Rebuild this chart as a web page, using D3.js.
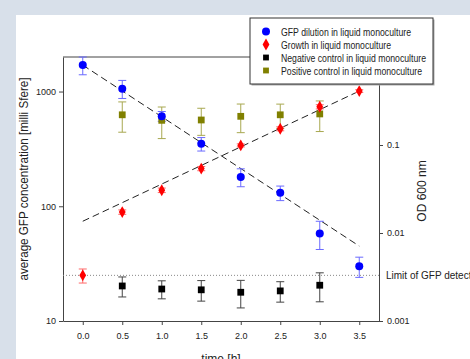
<!DOCTYPE html>
<html>
<head>
<meta charset="utf-8">
<script src="https://cdn.jsdelivr.net/npm/d3@7"></script>
<style>
  body { margin: 0; background: #fff; }
  text { font-family: "Liberation Sans", Arial, sans-serif; }
</style>
</head>
<body>
<svg id="canvas" width="470" height="359"></svg>
<script>
// values
let times = [0, 0.5, 1, 1.5, 2, 2.5, 3, 3.5]
let xTickLabels = ["0.0", "0.5", "1.0", "1.5", "2.0", "2.5", "3.0", "3.5"]

let gfpValue = [1700, 1060, 610, 350, 180, 131, 58, 30]
let gfpErr = [300, 190, 60, 47, 32, 19, 16, 6]

let growthValue = [0.0033, 0.0173, 0.0306, 0.054, 0.099, 0.153, 0.272, 0.41]
let growthErr = [0.0006, 0.001, 0.0018, 0.003, 0.004, 0.008, 0.015, 0.015]

let controlTimes = [0.5, 1, 1.5, 2, 2.5, 3]
let negValue = [20.2, 19, 18.7, 17.8, 18.3, 20.5]
let negErr = [4, 3.4, 3.8, 4.8, 3.7, 5.8]
let posValue = [627, 561, 565, 608, 627, 638]
let posErr = [185, 172, 150, 170, 150, 190]

let fitTimes = [0, 3.5]
let gfpFit = [1700, 45]
let growthFit = [0.0136, 0.41]

let detectionLimit = 25

let leftTicks = [10, 100, 1000]
let rightTicks = [0.001, 0.01, 0.1]

let legendLabels = [
  "GFP dilution in liquid monoculture",
  "Growth in liquid monoculture",
  "Negative control in liquid monoculture",
  "Positive control in liquid monoculture"
]

let canvas = d3.select("#canvas")

// page background, like the screenshot
canvas.append("rect").attr("width", 470).attr("height", 359).attr("fill", "#d8e0ea")
canvas.append("rect").attr("x", 16).attr("y", 15).attr("width", 454).attr("height", 344).attr("fill", "#fff")

let plotLeft = 63, plotRight = 379, plotTop = 57, plotBottom = 321

let x = d3.scaleLinear().domain([-0.25, 3.75]).range([plotLeft, plotRight])
let yLeft = d3.scaleLog().domain([10, 2000]).range([plotBottom, plotTop])
let yRight = d3.scaleLog().domain([0.001, 1]).range([plotBottom, plotTop])

let axisColor = "#444"

let styleAxis = (g) => {
  g.selectAll("path").attr("stroke", axisColor)
  g.selectAll("line").attr("stroke", axisColor)
  g.selectAll("text").attr("font-size", "9px").attr("fill", "#222")
    .attr("font-family", "'Liberation Sans', Arial, sans-serif")
}

canvas.append("g")
  .attr("transform", `translate(0,${plotBottom})`)
  .call(d3.axisBottom(x).tickValues(times).tickFormat((d, i) => xTickLabels[i]).tickSize(4).tickSizeOuter(0).tickPadding(8))
  .call(styleAxis)

canvas.append("g")
  .attr("transform", `translate(${plotLeft},0)`)
  .call(d3.axisLeft(yLeft).tickValues(leftTicks).tickFormat(d3.format("d")).tickSize(4).tickSizeOuter(0).tickPadding(3))
  .call(styleAxis)

canvas.append("g")
  .attr("transform", `translate(${plotRight},0)`)
  .call(d3.axisRight(yRight).tickValues(rightTicks).tickFormat((d) => d.toString()).tickSize(4).tickSizeOuter(0).tickPadding(4))
  .call(styleAxis)

// top frame line
canvas.append("line")
  .attr("x1", plotLeft).attr("x2", plotRight).attr("y1", plotTop).attr("y2", plotTop)
  .attr("stroke", axisColor)

// detection limit
canvas.append("line")
  .attr("x1", plotLeft).attr("x2", plotRight)
  .attr("y1", yLeft(detectionLimit)).attr("y2", yLeft(detectionLimit))
  .attr("stroke", "#888").attr("stroke-width", 1).attr("stroke-dasharray", "1,2")

canvas.append("text")
  .attr("x", plotRight + 7).attr("y", yLeft(detectionLimit) + 4)
  .attr("font-size", "10px").attr("fill", "#222")
  .text("Limit of GFP detection")

// fit lines
let gfpLine = d3.line().x((d, i) => x(fitTimes[i])).y((d) => yLeft(d))
let growthLine = d3.line().x((d, i) => x(fitTimes[i])).y((d) => yRight(d))

canvas.append("path").attr("d", gfpLine(gfpFit))
  .attr("fill", "none").attr("stroke", "#222").attr("stroke-dasharray", "7,4")
canvas.append("path").attr("d", growthLine(growthFit))
  .attr("fill", "none").attr("stroke", "#222").attr("stroke-dasharray", "7,4")

let drawErrors = (xs, vals, errs, yScale, color) => {
  let g = canvas.append("g").attr("stroke", color).attr("stroke-width", 1)
  xs.forEach((t, i) => {
    let cx = x(t)
    let y1 = yScale(vals[i] + errs[i])
    let y2 = yScale(vals[i] - errs[i])
    g.append("line").attr("x1", cx).attr("x2", cx).attr("y1", y1).attr("y2", y2)
    g.append("line").attr("x1", cx - 4).attr("x2", cx + 4).attr("y1", y1).attr("y2", y1)
    g.append("line").attr("x1", cx - 4).attr("x2", cx + 4).attr("y1", y2).attr("y2", y2)
  })
}

drawErrors(controlTimes, posValue, posErr, yLeft, "#a8a850")
drawErrors(controlTimes, negValue, negErr, yLeft, "#444")
drawErrors(times, gfpValue, gfpErr, yLeft, "#6a6aff")
drawErrors(times, growthValue, growthErr, yRight, "#ff6a6a")

let square = d3.symbol().type(d3.symbolSquare).size(46)
let diamond = d3.symbol().type(d3.symbolDiamond).size(40)

canvas.append("g").selectAll("path")
  .data(posValue).enter().append("path")
  .attr("d", square)
  .attr("transform", (d, i) => `translate(${x(controlTimes[i])},${yLeft(d)})`)
  .attr("fill", "#808000")

canvas.append("g").selectAll("path")
  .data(negValue).enter().append("path")
  .attr("d", square)
  .attr("transform", (d, i) => `translate(${x(controlTimes[i])},${yLeft(d)})`)
  .attr("fill", "#000")

canvas.append("g").selectAll("circle")
  .data(gfpValue).enter().append("circle")
  .attr("cx", (d, i) => x(times[i]))
  .attr("cy", (d) => yLeft(d))
  .attr("r", 4)
  .attr("fill", "#0000ff")

canvas.append("g").selectAll("path")
  .data(growthValue).enter().append("path")
  .attr("d", diamond)
  .attr("transform", (d, i) => `translate(${x(times[i])},${yRight(d)})`)
  .attr("fill", "#ff0000")

// axis titles
canvas.append("text")
  .attr("transform", "translate(28,179) rotate(-90)")
  .attr("text-anchor", "middle")
  .attr("font-size", "12px").attr("fill", "#222")
  .attr("textLength", 203).attr("lengthAdjust", "spacingAndGlyphs")
  .text("average GFP concentration [milli Sfere]")

canvas.append("text")
  .attr("transform", "translate(426,191) rotate(-90)")
  .attr("text-anchor", "middle")
  .attr("font-size", "12px").attr("fill", "#222")
  .text("OD 600 nm")

canvas.append("text")
  .attr("x", x(1.75)).attr("y", 363)
  .attr("text-anchor", "middle")
  .attr("font-size", "12px").attr("fill", "#222")
  .text("time [h]")

// legend
let legend = canvas.append("g").attr("transform", "translate(250,18)")
legend.append("rect").attr("x", 1.5).attr("y", 1.5).attr("width", 183).attr("height", 66).attr("fill", "#aaa")
legend.append("rect").attr("width", 183).attr("height", 66)
  .attr("fill", "#fff").attr("stroke", "#333").attr("stroke-width", 1)

let legendColors = ["#0000ff", "#ff0000", "#000", "#808000"]
let legendShapes = [d3.symbolCircle, d3.symbolDiamond, d3.symbolSquare, d3.symbolSquare]
let legendSizes = [50, 40, 34, 34]
let legendTextWidths = [130, 110, 145, 141]

legend.selectAll(".item")
  .data(legendLabels).enter().append("g")
  .attr("class", "item")
  .attr("transform", (d, i) => `translate(0,${13.5 + i * 13})`)
  .each(function (d, i) {
    let g = d3.select(this)
    g.append("path")
      .attr("d", d3.symbol().type(legendShapes[i]).size(legendSizes[i]))
      .attr("transform", "translate(16,0)")
      .attr("fill", legendColors[i])
    g.append("text")
      .attr("x", 31).attr("y", 4)
      .attr("font-size", "10.5px").attr("fill", "#222")
      .attr("textLength", legendTextWidths[i]).attr("lengthAdjust", "spacingAndGlyphs")
      .text(d)
  })
</script>
</body>
</html>
